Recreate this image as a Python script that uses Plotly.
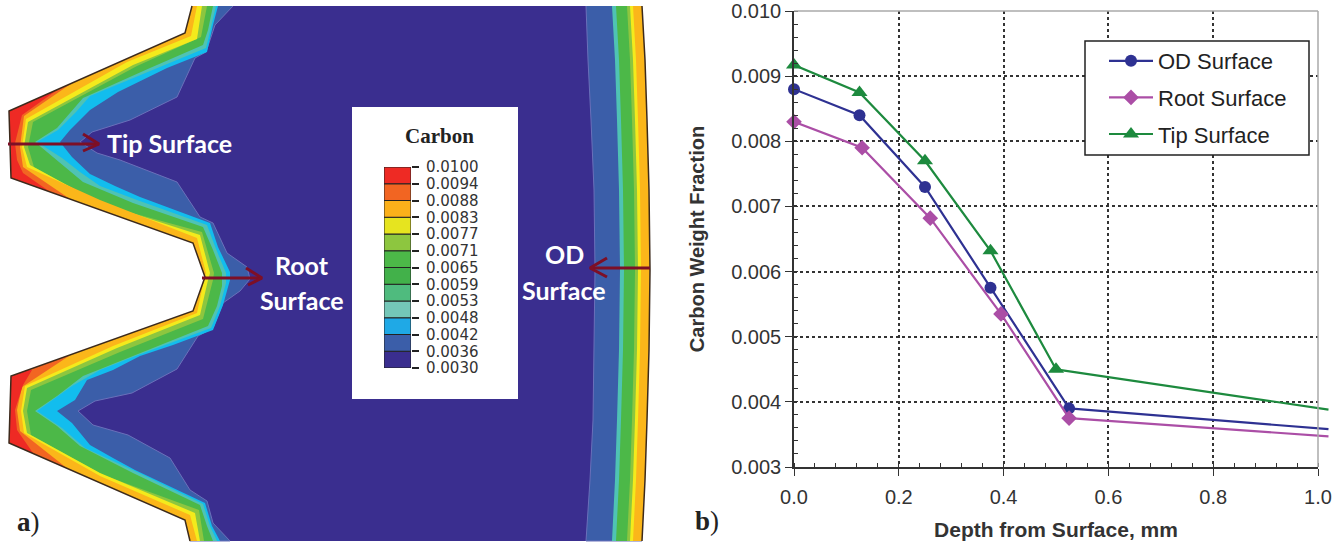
import plotly.graph_objects as go

# ---------- line chart data (panel b) ----------
OD_DEPTH = [0.0, 0.125, 0.25, 0.375, 0.525, 1.02]
OD_CARBON = [0.0088, 0.0084, 0.0073, 0.00575, 0.0039, 0.00358]
ROOT_DEPTH = [0.0, 0.13, 0.26, 0.395, 0.525, 1.02]
ROOT_CARBON = [0.0083, 0.0079, 0.00682, 0.00535, 0.00375, 0.00347]
TIP_DEPTH = [0.0, 0.125, 0.25, 0.375, 0.5, 1.02]
TIP_CARBON = [0.00917, 0.00875, 0.0077, 0.00632, 0.0045, 0.00388]

# ---------- contour legend (panel a) ----------
LEVELS = ["0.0030", "0.0036", "0.0042", "0.0048", "0.0053", "0.0059", "0.0065",
          "0.0071", "0.0077", "0.0083", "0.0088", "0.0094", "0.0100"]
LEVEL_COLORS = ["#3a2e8f", "#3b5ea9", "#1fa9e6", "#74c7b8", "#4fbb7e", "#42b14a",
                "#4cb848", "#8dc63f", "#e6e41f", "#fbb01a", "#f26522", "#ee2a24"]

# ---------- contour outlines of the section ----------
NAVY, BLUE, CYAN, TEAL, GREEN, LGREEN, YELLOW, AMBER, ORANGE, RED = (
    "#3a2e8f", "#3b5ea9", "#12bdee", "#4fc3b4", "#4cb848", "#8dc63f",
    "#f4ea1c", "#fbb61a", "#f26522", "#ee2a24")

PROFILE = [(192, 6), (185, 33), (9, 111), (11, 178), (193, 243), (205, 277), (193, 311),
           (11, 376), (9, 443), (185, 520), (190, 541)]
EDGE_BLUE = [(233, 6), (215, 25), (206, 52), (195, 58), (177, 97), (130, 120), (92, 132), (80, 142),
             (97, 153), (120, 160), (177, 182), (200, 217), (213, 223), (227, 253), (247, 267), (250, 279),
             (240, 291), (223, 303), (213, 328), (198, 336), (177, 369), (132, 393), (95, 401), (78, 411),
             (93, 425), (128, 435), (170, 458), (190, 490), (207, 501), (213, 523), (230, 541)]
EDGE_CYAN = [(218, 6), (213, 25), (207, 52), (167, 68), (118, 92), (90, 110), (70, 130), (60, 142),
             (72, 157), (90, 174), (115, 186), (140, 197), (210, 223), (218, 247), (230, 272), (230, 280),
             (223, 305), (213, 330), (173, 345), (140, 356), (113, 370), (87, 380), (75, 400), (57, 411),
             (72, 423), (90, 445), (113, 458), (135, 470), (205, 503), (212, 526), (220, 541)]
EDGE_TEAL = [(216, 6), (211, 28), (206, 48), (155, 69), (90, 96), (76, 112), (58, 130), (37, 142),
             (62, 158), (80, 172), (100, 186), (137, 200), (207, 225), (216, 249), (226, 273), (226, 283),
             (220, 306), (211, 328), (138, 355), (100, 370), (72, 386), (37, 411),
             (62, 428), (85, 448), (137, 472), (203, 504), (210, 526), (217, 541)]
EDGE_GREEN = [(213, 6), (208, 30), (203, 45), (150, 68), (83, 98), (57, 128), (35, 142), (57, 160),
              (83, 182), (133, 203), (203, 227), (213, 250), (222, 273), (222, 286), (217, 306), (208, 326),
              (133, 356), (83, 376), (57, 396), (35, 411), (57, 426), (80, 446), (133, 473), (200, 505),
              (207, 526), (213, 541)]
EDGE_LGREEN = [(207, 6), (201, 37), (137, 66), (33, 122), (28, 147), (34, 167), (103, 205), (202, 232),
               (214, 273), (213, 280), (203, 319), (120, 352), (31, 390), (27, 411), (31, 435), (103, 475),
               (199, 510), (204, 541)]
EDGE_YELLOW = [(202, 6), (197, 39), (133, 65), (28, 122), (24, 147), (30, 165), (100, 203), (200, 235),
               (210, 273), (208, 280), (200, 315), (117, 348), (27, 388), (23, 411), (27, 433), (100, 473),
               (195, 513), (200, 541)]
EDGE_AMBER = [(197, 6), (191, 36), (127, 62), (26, 119), (22, 147), (27, 167), (100, 200), (197, 238),
              (206, 273), (204, 280), (197, 313), (113, 346), (25, 386), (21, 411), (24, 433), (100, 476),
              (190, 515), (197, 541)]
ORANGE_TIP_1 = [(75, 81), (24, 116), (20, 147), (23, 167), (70, 199)]
ORANGE_TIP_2 = [(72, 354), (22, 387), (17, 410), (20, 431), (68, 469)]
RED_TIP_1 = [(60, 88), (22, 115), (15, 143), (17, 160), (23, 173), (53, 194)]
RED_TIP_2 = [(32, 370), (23, 385), (15, 410), (17, 430), (33, 453)]

OD_Y = [6, 60, 120, 190, 270, 350, 420, 480, 541]
OD_OUTER = [642, 645, 647, 649, 650, 649, 647, 645, 642]
OD_AMBER = [633, 636, 638, 640, 641, 640, 638, 636, 633]
OD_YELLOW = [630, 633, 635, 637, 638, 637, 635, 633, 630]
OD_LGREEN = [627, 630, 632, 634, 635, 634, 632, 630, 627]
OD_GREEN = [616, 619, 621, 623, 624, 623, 621, 619, 616]
OD_TEAL = [612, 615, 617, 619, 620, 619, 617, 615, 612]
OD_BLUE = [586, 588, 591, 594, 595, 594, 593, 590, 586]

ARROW_TIP = [(8, 144), (99, 144), None, (83, 134), (99, 144), (83, 151)]
ARROW_ROOT = [(202, 278), (262, 278), None, (246, 268), (262, 278), (248, 285)]
ARROW_OD = [(650, 268), (590, 268), None, (607, 258), (590, 268), (607, 277)]

PANEL_X = [0, 660, 660, 0]
PANEL_Y = [6, 6, 541, 541]
CARD_X = [352, 518, 518, 352]
CARD_Y = [107, 107, 399, 399]

W, H = 1343, 546
X0, X1, Y0, Y1 = 794, 1318, 11, 467
X_TAIL = 1331  # the curves run a little past the 1.0 border
fig = go.Figure()


def xs(p):
    return [None if q is None else q[0] for q in p]


def ys(p):
    return [None if q is None else q[1] for q in p]


def poly(x, y, color, line=None):
    fig.add_trace(go.Scatter(x=x, y=y, xaxis="x2", yaxis="y2", mode="lines", fill="toself",
                             fillcolor=color, line=dict(color=line or color, width=1 if line else 0),
                             hoverinfo="skip", showlegend=False))


def left_of(edge, color, line=None):
    poly(xs(edge) + [0, 0], ys(edge) + [edge[-1][1], edge[0][1]], color, line)


def right_of(edge_x, color, line=None):
    poly(edge_x + [660, 660], OD_Y + [OD_Y[-1], OD_Y[0]], color, line)


poly(PANEL_X, PANEL_Y, NAVY)
left_of(EDGE_BLUE, BLUE, "#6a70ba")
left_of(EDGE_CYAN, CYAN)
left_of(EDGE_TEAL, TEAL)
left_of(EDGE_GREEN, GREEN)
left_of(EDGE_LGREEN, LGREEN)
left_of(EDGE_YELLOW, YELLOW)
left_of(EDGE_AMBER, AMBER)
left_of(ORANGE_TIP_1, ORANGE)
left_of(ORANGE_TIP_2, ORANGE)
left_of(RED_TIP_1, RED)
left_of(RED_TIP_2, RED)
# white cover outside the section, running past the panel's top and bottom
left_of([(PROFILE[0][0], 0)] + PROFILE + [(PROFILE[-1][0], H)], "#ffffff")
fig.add_trace(go.Scatter(x=xs(PROFILE), y=ys(PROFILE), xaxis="x2", yaxis="y2", mode="lines",
                         line=dict(color="#3c2a1c", width=1.5), hoverinfo="skip", showlegend=False))
right_of(OD_BLUE, BLUE, "#6a70ba")
right_of(OD_TEAL, TEAL)
right_of(OD_GREEN, GREEN)
right_of(OD_LGREEN, LGREEN)
right_of(OD_YELLOW, YELLOW)
right_of(OD_AMBER, AMBER)
poly([OD_OUTER[0]] + OD_OUTER + [OD_OUTER[-1], 665, 665], [0] + OD_Y + [H, H, 0], "#ffffff")
fig.add_trace(go.Scatter(x=OD_OUTER, y=OD_Y, xaxis="x2", yaxis="y2", mode="lines",
                         line=dict(color="#3c2a1c", width=1.5), hoverinfo="skip", showlegend=False))
poly(CARD_X, CARD_Y, "#ffffff")
for arrow in (ARROW_TIP, ARROW_ROOT, ARROW_OD):
    fig.add_trace(go.Scatter(x=xs(arrow), y=ys(arrow), xaxis="x2", yaxis="y2", mode="lines",
                             line=dict(color="#7d0f26", width=3), hoverinfo="skip", showlegend=False))

# contour colour key
fig.add_trace(go.Bar(x=[0] * len(LEVEL_COLORS), y=[1] * len(LEVEL_COLORS), base=list(range(len(LEVEL_COLORS))),
                     width=1, marker=dict(color=LEVEL_COLORS, line=dict(color="#222222", width=1)),
                     xaxis="x3", yaxis="y3", hoverinfo="skip", showlegend=False))

# carbon profiles
for name, x, y, color, sym, size in (
        ("OD Surface", OD_DEPTH, OD_CARBON, "#2e3192", "circle", 12),
        ("Root Surface", ROOT_DEPTH, ROOT_CARBON, "#ab4ea6", "diamond", 12),
        ("Tip Surface", TIP_DEPTH, TIP_CARBON, "#1d8a3e", "triangle-up", 14)):
    fig.add_trace(go.Scatter(x=x[:-1], y=y[:-1], name=name, mode="lines+markers", legendgroup=name,
                             line=dict(color=color, width=2.2), cliponaxis=False,
                             marker=dict(symbol=sym, size=size, color=color)))
    fig.add_trace(go.Scatter(x=x[-2:], y=y[-2:], xaxis="x4", yaxis="y4", mode="lines", legendgroup=name,
                             showlegend=False, line=dict(color=color, width=2.2), hoverinfo="skip"))

FONT = "Liberation Sans"
fig.update_layout(
    width=W, height=H, margin=dict(l=0, r=0, t=0, b=0), paper_bgcolor="white", plot_bgcolor="rgba(0,0,0,0)",
    barmode="overlay",
    font=dict(family=FONT, color="#333333"),
    xaxis=dict(domain=[X0 / W, X1 / W], range=[0, 1], dtick=0.2, tick0=0, tickformat=".1f", automargin=False,
               showline=True, linecolor="#333333", linewidth=1.5, ticks="outside", ticklen=7, tickcolor="#333333",
               ticklabelstandoff=4,
               showgrid=True, gridcolor="#333333", griddash="3px,3px", gridwidth=1.5, zeroline=False,
               tickfont=dict(size=20, color="#333333"),
               minor=dict(dtick=0.04, tick0=0, ticks="inside", ticklen=4, tickcolor="#333333", showgrid=False),
               title=dict(text="<b>Depth from Surface, mm</b>", font=dict(size=21, color="#333333"), standoff=16)),
    yaxis=dict(domain=[1 - Y1 / H, 1 - Y0 / H], range=[0.003, 0.010], dtick=0.001, tick0=0.003, tickformat=".3f",
               automargin=False,
               showline=True, linecolor="#333333", linewidth=1.5, ticks="outside", ticklen=7, tickcolor="#333333",
               showgrid=True, gridcolor="#333333", griddash="3px,3px", gridwidth=1.5, zeroline=False,
               tickfont=dict(size=20, color="#333333"),
               minor=dict(dtick=0.0002, tick0=0.003, ticks="inside", ticklen=4, tickcolor="#333333", showgrid=False),
               title=dict(text="<b>Carbon Weight Fraction</b>", font=dict(size=20, color="#333333"), standoff=21)),
    xaxis2=dict(domain=[0, 665 / W], range=[0, 665], visible=False, fixedrange=True, automargin=False),
    yaxis2=dict(domain=[0, 1], range=[H, 0], visible=False, fixedrange=True, automargin=False),
    xaxis3=dict(domain=[384 / W, 411 / W], range=[-0.5, 0.5], visible=False, automargin=False),
    yaxis3=dict(domain=[1 - 368 / H, 1 - 167 / H], range=[0, 12], anchor="x3", side="right", automargin=False,
                tickvals=list(range(13)), ticktext=LEVELS, showgrid=False, zeroline=False, showline=False,
                ticks="outside", ticklen=7, tickcolor="#222222", tickwidth=1.5, ticklabelstandoff=4,
                tickfont=dict(family="DejaVu Sans", size=15, color="#333333")),
    # same scales as the main axes, but a wider window so the curve ends show past the 1.0 border
    xaxis4=dict(domain=[X0 / W, X_TAIL / W], range=[0, (X_TAIL - X0) / (X1 - X0)], anchor="y4",
                visible=False, automargin=False),
    yaxis4=dict(domain=[1 - Y1 / H, 1 - Y0 / H], range=[0.003, 0.010], anchor="x4",
                visible=False, automargin=False),
    legend=dict(x=1104 / W, y=1 - 40 / H, xanchor="left", yanchor="top", bgcolor="rgba(0,0,0,0)",
                borderwidth=0, tracegroupgap=5, itemwidth=44,
                font=dict(size=22, color="#222222")),
    shapes=[
        dict(type="line", xref="x domain", yref="y domain", x0=0, x1=1, y0=1, y1=1,
             line=dict(color="#aaaaaa", width=1.5)),
        dict(type="line", xref="x domain", yref="y domain", x0=1, x1=1, y0=0, y1=1,
             line=dict(color="#aaaaaa", width=1.5)),
        dict(type="rect", xref="paper", yref="paper", x0=1085 / W, x1=1309 / W, y0=1 - 155 / H, y1=1 - 41 / H,
             fillcolor="white", line=dict(color="#222222", width=1.5)),
    ],
)


def label(text, x, y, size, family, color, xanchor="center"):
    fig.add_annotation(text=text, x=x, y=y, xref="x2", yref="y2", showarrow=False, xanchor=xanchor,
                       yanchor="middle", font=dict(size=size, family=family, color=color))


label("<b>Carbon</b>", 439, 136, 21, "Liberation Serif", "#222222")
label("<b>Tip Surface</b>", 105, 143, 25, "Lato", "#ffffff", "left")
label("<b>Root</b>", 302, 265, 25, "Lato", "#ffffff")
label("<b>Surface</b>", 302, 300, 25, "Lato", "#ffffff")
label("<b>OD</b>", 564, 254, 25, "Lato", "#ffffff")
label("<b>Surface</b>", 564, 290, 25, "Lato", "#ffffff")
label("<b>a</b>)", 15, 522, 27, "Liberation Serif", "#222222", "left")
fig.add_annotation(text="<b>b</b>)", x=693 / W, y=1 - 521 / H, xref="paper", yref="paper", showarrow=False,
                   xanchor="left", yanchor="middle", font=dict(size=27, family="Liberation Serif", color="#222222"))

fig.write_html("out.html", config={"displayModeBar": False}, post_script="document.body.style.margin='0';")
